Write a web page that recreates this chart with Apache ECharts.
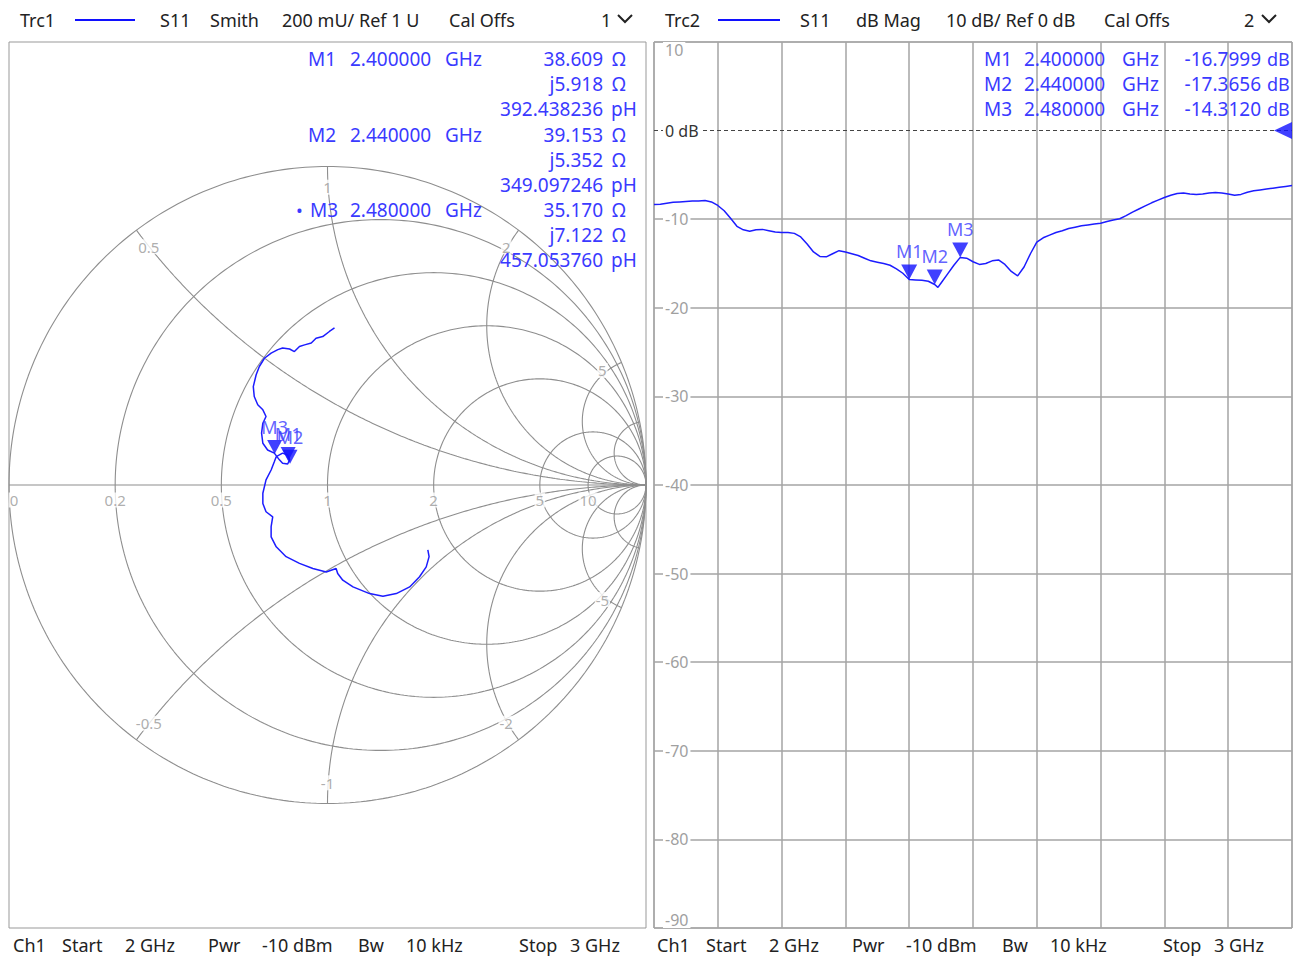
<!DOCTYPE html>
<html><head><meta charset="utf-8">
<script src="https://cdn.jsdelivr.net/npm/echarts@6/dist/echarts.min.js"></script>
<style>html,body{margin:0;padding:0;background:#fff}#c{width:1300px;height:961px}</style>
</head><body><div id="c"></div>
<script>
// ================= DATA =================
// Trc2: S11 dB magnitude vs frequency (GHz)
const freqGHz = [2.00,2.01,2.02,2.03,2.04,2.05,2.06,2.07,2.08,2.09,2.10,2.11,2.12,2.13,2.14,2.15,2.16,2.17,2.18,2.19,
  2.20,2.21,2.22,2.23,2.24,2.25,2.26,2.27,2.28,2.29,2.30,2.31,2.32,2.33,2.34,2.35,2.36,2.37,2.38,2.39,
  2.40,2.41,2.42,2.43,2.44,2.445,2.45,2.46,2.47,2.48,2.49,2.50,2.51,2.52,2.53,2.54,2.55,2.56,2.57,2.58,2.59,
  2.60,2.61,2.62,2.63,2.64,2.65,2.66,2.67,2.68,2.69,2.70,2.71,2.72,2.73,2.74,2.75,2.76,2.77,2.78,2.79,
  2.80,2.81,2.82,2.83,2.84,2.85,2.86,2.87,2.88,2.89,2.90,2.91,2.92,2.93,2.94,2.95,2.96,2.97,2.98,2.99,3.00];
const s11dB = [-8.35,-8.3,-8.2,-8.1,-8.05,-8.0,-7.95,-7.95,-7.9,-8.05,-8.45,-9.05,-9.9,-10.8,-11.2,-11.35,-11.2,-11.15,-11.3,-11.45,
  -11.5,-11.5,-11.6,-12.0,-12.8,-13.7,-14.2,-14.25,-13.9,-13.55,-13.7,-13.9,-14.1,-14.4,-14.7,-14.85,-15.0,-15.2,-15.6,-16.1,
  -16.8,-16.85,-16.9,-17.0,-17.37,-17.7,-17.2,-16.2,-15.2,-14.31,-14.4,-14.8,-15.1,-15.0,-14.7,-14.6,-15.1,-15.9,-16.4,-15.4,-13.9,
  -12.6,-12.1,-11.8,-11.5,-11.3,-11.05,-10.9,-10.75,-10.65,-10.55,-10.45,-10.25,-10.1,-9.95,-9.6,-9.2,-8.85,-8.5,-8.15,-7.85,
  -7.55,-7.3,-7.1,-7.05,-7.15,-7.2,-7.15,-7.05,-7.0,-7.05,-7.15,-7.3,-7.2,-6.95,-6.8,-6.7,-6.6,-6.5,-6.4,-6.3,-6.2];

// Trc1: S11 reflection coefficient on the Smith chart (real, imag), 2 GHz -> 3 GHz
const gammaRe = [0.315,0.319,0.310,0.289,0.258,0.216,0.174,0.132,0.080,0.048,0.032,0.027,-0.004,-0.046,-0.088,-0.130,-0.161,-0.177,-0.177,-0.172,
  -0.193,-0.203,-0.203,-0.193,-0.177,-0.167,-0.161,-0.141,-0.125,-0.119,-0.125,-0.141,-0.151,-0.167,-0.188,-0.203,-0.207,-0.203,-0.193,-0.203,
  -0.219,-0.230,-0.233,-0.224,-0.214,-0.198,-0.177,-0.156,-0.141,-0.119,-0.104,-0.088,-0.072,-0.051,-0.036,-0.015,0.006,0.022];
const gammaIm = [-0.204,-0.225,-0.257,-0.288,-0.320,-0.341,-0.349,-0.341,-0.320,-0.299,-0.278,-0.262,-0.273,-0.262,-0.246,-0.225,-0.194,-0.163,-0.131,-0.100,
  -0.084,-0.058,-0.026,0.016,0.047,0.073,0.089,0.100,0.094,0.079,0.066,0.068,0.079,0.100,0.110,0.131,0.163,0.194,0.215,0.236,
  0.252,0.278,0.309,0.346,0.372,0.398,0.414,0.425,0.430,0.427,0.419,0.435,0.440,0.446,0.461,0.466,0.482,0.493];

// Markers
const markerNames = ['M1','M2','M3'];
const markerFreqText = ['2.400000','2.440000','2.480000'];
const markerFreqGHz = [2.40, 2.44, 2.48];
const markerDB = [-16.7999, -17.3656, -14.3120];
const markerDBText = ['-16.7999','-17.3656','-14.3120'];
const markerR = [38.609, 39.153, 35.170];
const markerX = [5.918, 5.352, 7.122];
const markerRText = ['38.609','39.153','35.170'];
const markerXText = ['j5.918','j5.352','j7.122'];
const markerLText = ['392.438236','349.097246','457.053760'];
const Z0 = 50;

// Smith chart grid values and labels
const resistanceCircles = [0, 0.2, 0.5, 1, 2, 5, 10];
const reactanceArcs = [0.5, 1, 2, 5, 10, -0.5, -1, -2, -5, -10];
const resistanceLabels = ['0','0.2','0.5','1','2','5','10'];
const resistanceLabelValues = [0, 0.2, 0.5, 1, 2, 5, 10];
const reactanceLabels = ['0.5','1','2','5','-0.5','-1','-2','-5'];
const reactanceLabelValues = [0.5, 1, 2, 5, -0.5, -1, -2, -5];

// dB axis
const dbMin = -90, dbMax = 10, dbStep = 10, refLevel = 0;
const fStart = 2, fStop = 3, fStep = 0.1;

// ================= BUILD =================
const BLUE = '#1c1cff';
const TXT_BLUE = '#3a3aff';
const GRID_GRAY = '#a4a4a4';
const FONT = '"Noto Sans", "Open Sans", sans-serif';
const yHalf = 886 / 637;

function zToGamma(r, x) {
  const d = (r + 1) * (r + 1) + x * x;
  return [(r * r - 1 + x * x) / d, (2 * x) / d];
}

const series = [];
function gridLine(data) {
  series.push({type:'line', xAxisIndex:0, yAxisIndex:0, data, symbol:'none', showSymbol:false,
    lineStyle:{color:'#8e8e8e', width:1.1}, silent:true, animation:false, z:1});
}
// horizontal real axis
gridLine([[-1,0],[1,0]]);
// resistance circles
resistanceCircles.forEach(r => {
  const c = r / (1 + r), rho = 1 / (1 + r), pts = [];
  for (let k = 0; k <= 360; k++) {
    const a = k * Math.PI / 180;
    pts.push([c + rho * Math.cos(a), rho * Math.sin(a)]);
  }
  gridLine(pts);
});
// reactance arcs
reactanceArcs.forEach(x => {
  const ax = Math.abs(x), s = Math.sign(x);
  const cy = 1 / ax, rho = 1 / ax;
  const p0 = [(ax*ax - 1) / (ax*ax + 1), 2*ax / (ax*ax + 1)];
  let a0 = Math.atan2(p0[1] - cy, p0[0] - 1);
  if (a0 < 0) a0 += 2 * Math.PI;
  const a1 = 1.5 * Math.PI, pts = [];
  for (let k = 0; k <= 240; k++) {
    const a = a0 + (a1 - a0) * k / 240;
    pts.push([1 + rho * Math.cos(a), s * (cy + rho * Math.sin(a))]);
  }
  gridLine(pts);
});

// Smith grid labels
const smithLabelData = [];
resistanceLabelValues.forEach((r, i) => {
  const g = zToGamma(r, 0);
  smithLabelData.push({value:g, label:{formatter:resistanceLabels[i], offset:[i === 0 ? 5 : 0, 15]}});
});
reactanceLabelValues.forEach((x, i) => {
  const g = zToGamma(0, x);
  smithLabelData.push({value:[g[0]*0.935, g[1]*0.935], label:{formatter:reactanceLabels[i]}});
});
series.push({type:'scatter', xAxisIndex:0, yAxisIndex:0, data:smithLabelData, symbolSize:0, silent:true, z:2,
  label:{show:true, position:'inside', color:'#999', fontSize:15, fontFamily:FONT, backgroundColor:'#fff', padding:[0,1]}});

// Smith trace
series.push({type:'line', xAxisIndex:0, yAxisIndex:0, data:gammaRe.map((v,i)=>[v, gammaIm[i]]),
  symbol:'none', lineStyle:{color:BLUE, width:1.5}, silent:true, z:4, animation:false});

const triPath = 'path://M0,0L20,0L10,18Z';
const markerLabel = {show:true, position:'top', distance:4, color:TXT_BLUE, fontSize:18, fontFamily:FONT,
  formatter: p => p.name};
// Smith markers
series.push({type:'scatter', xAxisIndex:0, yAxisIndex:0, z:5,
  data: markerNames.map((n,i)=>({name:n, value: zToGamma(markerR[i]/Z0, markerX[i]/Z0)})),
  symbol:triPath, symbolSize:[15,14], symbolOffset:[0,'-50%'], itemStyle:{color:'#1010ff'}, label:markerLabel});

// dB trace
series.push({type:'line', xAxisIndex:1, yAxisIndex:1, data:freqGHz.map((f,i)=>[f, s11dB[i]]),
  symbol:'none', lineStyle:{color:BLUE, width:1.5}, z:4, animation:false,
  markLine:{silent:true, symbol:['none','none'], label:{show:false}, animation:false,
    lineStyle:{type:[4,3], color:'#444', width:1}, data:[{yAxis:refLevel}]}});
// dB markers
series.push({type:'scatter', xAxisIndex:1, yAxisIndex:1, z:5,
  data: markerNames.map((n,i)=>({name:n, value:[markerFreqGHz[i], markerDB[i]]})),
  symbol:triPath, symbolSize:[16,15], symbolOffset:[0,'-50%'], itemStyle:{color:'#1010ff'}, label:markerLabel});
// reference level triangle
series.push({type:'scatter', xAxisIndex:1, yAxisIndex:1, z:5, data:[[fStop, refLevel]],
  symbol:'path://M0,9L18,0L18,18Z', symbolSize:[18,17], symbolOffset:['-50%',0], itemStyle:{color:'#1010ff'}, silent:true});

// ----- text (graphic) -----
const graphic = [];
function T(x, y, text, fill, align, size) {
  graphic.push({type:'text', x, y, silent:true, z:10,
    style:{text, fill: fill || '#222', font: (size || 18) + 'px ' + FONT,
      textAlign: align || 'left', textVerticalAlign:'middle', align: align || 'left', verticalAlign:'middle'}});
}
function L(x1, y1, x2, y2, color, w) {
  graphic.push({type:'line', silent:true, z:10, shape:{x1,y1,x2,y2}, style:{stroke:color, lineWidth:w}});
}
function chevron(x, y) {
  graphic.push({type:'polyline', silent:true, z:10, shape:{points:[[x,y-3],[x+7,y+4],[x+14,y-3]]},
    style:{stroke:'#222', lineWidth:2, fill:null}});
}
// headers
T(20, 20, 'Trc1'); L(75, 20, 135, 20, '#1010ff', 2); T(160, 20, 'S11'); T(210, 20, 'Smith');
T(282, 20, '200 mU/ Ref 1 U'); T(449, 20, 'Cal Offs'); T(601, 20, '1'); chevron(618, 18);
T(665, 20, 'Trc2'); L(718, 20, 780, 20, '#1010ff', 2); T(800, 20, 'S11'); T(856, 20, 'dB Mag');
T(946, 20, '10 dB/ Ref 0 dB'); T(1104, 20, 'Cal Offs'); T(1244, 20, '2'); chevron(1262, 18);
// footers
[[0,0],[644,1]].forEach(([dx]) => {
  T(13+dx, 945, 'Ch1'); T(62+dx, 945, 'Start'); T(125+dx, 945, '2 GHz'); T(208+dx, 945, 'Pwr');
  T(262+dx, 945, '-10 dBm'); T(358+dx, 945, 'Bw'); T(406+dx, 945, '10 kHz'); T(519+dx, 945, 'Stop'); T(570+dx, 945, '3 GHz');
});
// Smith marker readout
markerNames.forEach((n, i) => {
  const y0 = 59 + i * 75.5;
  if (i === 2) T(296, y0, '•', TXT_BLUE);
  T(i === 2 ? 310 : 308, y0, n, TXT_BLUE, 'left', 19);
  T(350, y0, markerFreqText[i], TXT_BLUE, 'left', 19);
  T(445, y0, 'GHz', TXT_BLUE, 'left', 19);
  T(603, y0, markerRText[i], TXT_BLUE, 'right', 19); T(612, y0, 'Ω', TXT_BLUE, 'left', 19);
  T(603, y0 + 25.2, markerXText[i], TXT_BLUE, 'right', 19); T(612, y0 + 25.2, 'Ω', TXT_BLUE, 'left', 19);
  T(603, y0 + 50.4, markerLText[i], TXT_BLUE, 'right', 19); T(611, y0 + 50.4, 'pH', TXT_BLUE, 'left', 19);
});
// dB marker readout
markerNames.forEach((n, i) => {
  const y0 = 59 + i * 25.2;
  T(984, y0, n, TXT_BLUE, 'left', 19); T(1024, y0, markerFreqText[i], TXT_BLUE, 'left', 19);
  T(1122, y0, 'GHz', TXT_BLUE, 'left', 19);
  T(1261, y0, markerDBText[i], TXT_BLUE, 'right', 19); T(1267, y0, 'dB', TXT_BLUE, 'left', 18);
});

const option = {
  backgroundColor:'#fff',
  animation:false,
  grid:[
    {left:9, top:42, width:637, height:886, show:true, borderColor:'#999', borderWidth:1, backgroundColor:'transparent'},
    {left:654, top:42, width:638, height:886, show:true, borderColor:'#999', borderWidth:1, backgroundColor:'transparent'}
  ],
  xAxis:[
    {type:'value', gridIndex:0, min:-1, max:1, show:false},
    {type:'value', gridIndex:1, min:fStart, max:fStop, interval:fStep,
      axisLine:{show:false}, axisTick:{show:false}, axisLabel:{show:false},
      splitLine:{show:true, lineStyle:{color:GRID_GRAY, width:1.5}}}
  ],
  yAxis:[
    {type:'value', gridIndex:0, min:-yHalf, max:yHalf, show:false},
    {type:'value', gridIndex:1, position:'left', min:dbMin, max:dbMax, interval:dbStep,
      axisLine:{show:false}, axisTick:{show:false}, axisLabel:{show:false},
      splitLine:{show:true, lineStyle:{color:[GRID_GRAY,GRID_GRAY,GRID_GRAY,GRID_GRAY,GRID_GRAY,GRID_GRAY,GRID_GRAY,GRID_GRAY,GRID_GRAY,'rgba(0,0,0,0)',GRID_GRAY], width:1.5}}},
    {type:'value', gridIndex:1, position:'left', offset:0, min:dbMin, max:dbMax, interval:dbStep, z:6,
      axisLine:{show:false}, axisTick:{show:false}, splitLine:{show:false},
      axisLabel:{show:true, inside:true, margin:9, fontSize:16, fontFamily:FONT,
        showMinLabel:true, showMaxLabel:true,
        verticalAlignMinLabel:'bottom', verticalAlignMaxLabel:'top',
        backgroundColor:'#fff', padding:[0,2],
        color: v => Number(v) === refLevel ? '#333' : '#a0a0a0',
        formatter: v => Number(v) === refLevel ? refLevel + ' dB' : String(v)}}
  ],
  series,
  graphic
};
const chart = echarts.init(document.getElementById('c'), null, {renderer:'svg', width:1300, height:961});
chart.setOption(option);
</script>
</body></html>
